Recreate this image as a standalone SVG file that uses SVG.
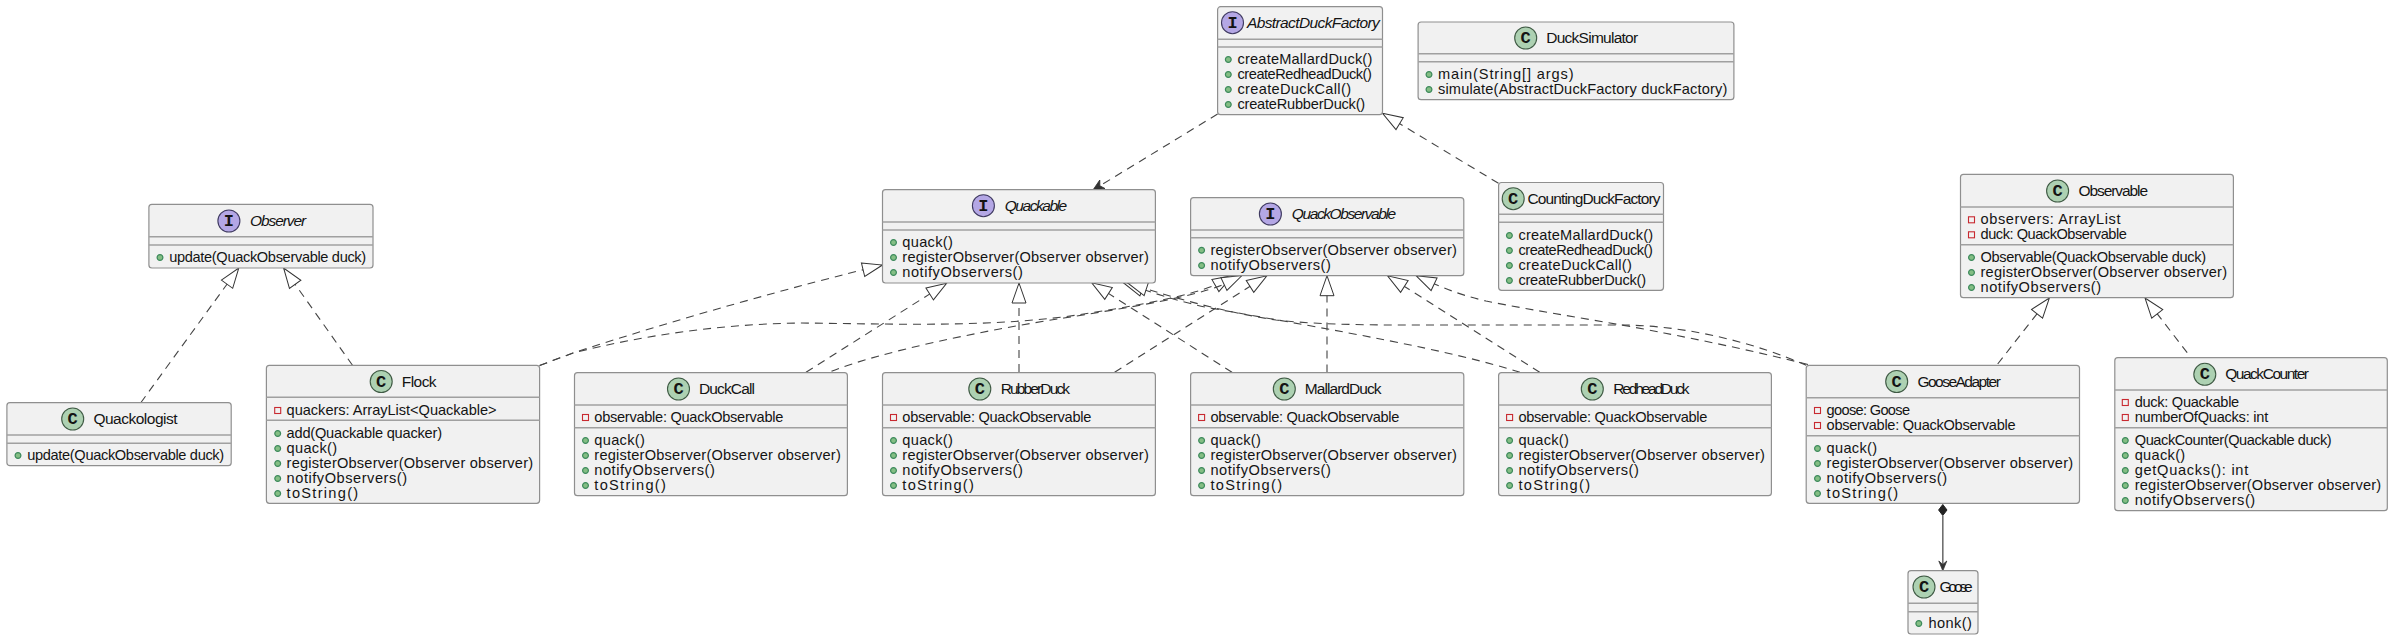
<svg xmlns="http://www.w3.org/2000/svg" width="2394" height="640" viewBox="0 0 2394 640">
<style>
text{font-family:"Liberation Sans",Arial,sans-serif;fill:#141414}
.b{fill:#f1f1f1;stroke:#8f8f8f;stroke-width:1.2}
.s{stroke:#a0a0a0;stroke-width:1.4}
.t{font-size:15.5px}
.it{font-size:15.5px;font-style:italic}
.m{font-size:14.6px}
.g{font-family:"Liberation Mono",monospace;font-size:17px;font-weight:bold;text-anchor:middle}
.cc{fill:#add1b2;stroke:#3f5a44;stroke-width:1.1}
.ci{fill:#b4a7e5;stroke:#3f3a60;stroke-width:1.1}
.pub{fill:#84be84;stroke:#3d8a5c;stroke-width:1.2}
.pri{fill:none;stroke:#c82930;stroke-width:1.1}
.d{fill:none;stroke:#444;stroke-width:1.1;stroke-dasharray:8 6}
.r{marker-end:url(#hollow)}
</style>
<defs>
<marker id="hollow" markerUnits="userSpaceOnUse" markerWidth="24" markerHeight="18" refX="21" refY="9" orient="auto">
<polygon points="1,2 21,9 1,16" fill="#fff" stroke="#333" stroke-width="1"/>
</marker>
<marker id="open" markerUnits="userSpaceOnUse" markerWidth="14" markerHeight="12" refX="12" refY="6" orient="auto">
<polygon points="1,1 12,6 1,11 4,6" fill="#333" stroke="#333" stroke-width="0.8"/>
</marker>
<circle id="p" class="pub" r="2.9"/>
<rect id="q" class="pri" x="-3" y="-3" width="6" height="6"/>
</defs>
<rect width="2394" height="640" fill="#fff"/>
<g id="connectors">
<path class="d r" d="M140.8 402.7L238.8 268"/>
<path class="d r" d="M352.5 365.3L283.6 268"/>
<path class="d" style="marker-end:url(#open)" d="M1217.6 114L1093 190"/>
<path class="d r" d="M1498.5 183.3L1382.5 113.3"/>
<path class="d r" d="M539.6 365.5L573 353C680 318 800 285 882.5 265"/>
<path class="d r" d="M539.6 365.5L573 353C640 336 720 324 800 323C900 324 1000 328 1090 313C1140 305 1190 296 1218 284L1232.7 275.5"/>
<path class="d r" d="M831.5 371.3C880 352 980 331 1064 318C1120 309 1190 298 1222 285L1242 275.5"/>
<path class="d r" d="M806 372.3L946.6 283.3"/>
<path class="d r" d="M1019 372L1019 283"/>
<path class="d r" d="M1114.6 372.3L1266.9 275.7"/>
<path class="d r" d="M1232 372.3L1091.7 282.7"/>
<path class="d r" d="M1327 372.5L1327 275.7"/>
<path class="d r" d="M1520 372.3C1450 350 1340 331 1210 308C1180 302 1150 292 1123.3 282.7"/>
<path class="d r" d="M1806.2 365.3C1760 345 1690 325 1620 325L1460 325C1400 325 1330 326 1276 320C1225 312 1180 300 1127.3 282.7"/>
<path class="d r" d="M1539.7 372.3L1387.5 275.7"/>
<path class="d r" d="M1808 364.5C1750 350 1700 340 1664 333C1610 322 1540 312 1486 301C1460 295 1440 287 1416 275.7"/>
<path class="d r" d="M1997.7 364L2049.4 298"/>
<path class="d r" d="M2187.2 352.7L2145 298"/>
<path fill="none" stroke="#707070" stroke-width="1.6" d="M1942.8 516L1942.8 566"/>
<path fill="#222" stroke="#222" d="M1942.8 504.5L1947 510L1942.8 515.5L1938.6 510Z"/>
<path fill="#333" stroke="#333" stroke-width="0.8" d="M1942.8 570.8L1938.8 561L1942.8 564.5L1946.8 561Z"/>
</g>
<g id="Observer">
<rect class="b" x="148.9" y="204.3" width="224.1" height="63.7" rx="3"/>
<line class="s" x1="148.9" x2="373" y1="236.7" y2="236.7"/><line class="s" x1="148.9" x2="373" y1="245" y2="245"/>
<circle class="ci" cx="228.9" cy="221" r="11"/><text class="g" x="228.9" y="226">I</text>
<text class="it" x="249.9" y="226" textLength="56.3">Observer</text>
<use href="#p" x="160" y="257.5"/><text class="m" x="169.2" y="262" textLength="197">update(QuackObservable duck)</text>
</g>
<g id="Quackologist">
<rect class="b" x="6.9" y="402.7" width="224.3" height="63" rx="3"/>
<line class="s" x1="6.9" x2="231.2" y1="435" y2="435"/><line class="s" x1="6.9" x2="231.2" y1="443.3" y2="443.3"/>
<circle class="cc" cx="72.7" cy="419" r="11"/><text class="g" x="72.7" y="424">C</text>
<text class="t" x="93.4" y="424" textLength="84.2">Quackologist</text>
<use href="#p" x="18" y="455.5"/><text class="m" x="27.2" y="460" textLength="197">update(QuackObservable duck)</text>
</g>
<g id="Flock">
<rect class="b" x="266.4" y="365.3" width="273.2" height="138" rx="3"/>
<line class="s" x1="266.4" x2="539.6" y1="397.3" y2="397.3"/><line class="s" x1="266.4" x2="539.6" y1="420.3" y2="420.3"/>
<circle class="cc" cx="381.2" cy="381.5" r="11"/><text class="g" x="381.2" y="386.5">C</text>
<text class="t" x="401.8" y="386.5" textLength="34.8">Flock</text>
<use href="#q" x="277.7" y="410.5"/><text class="m" x="286.6" y="415" textLength="210">quackers: ArrayList&lt;Quackable&gt;</text>
<use href="#p" x="277.7" y="433.5"/><text class="m" x="286.6" y="438" textLength="155.4">add(Quackable quacker)</text>
<use href="#p" x="277.7" y="448.5"/><text class="m" x="286.6" y="453" textLength="50.5">quack()</text>
<use href="#p" x="277.7" y="463.5"/><text class="m" x="286.6" y="468" textLength="246.5">registerObserver(Observer observer)</text>
<use href="#p" x="277.7" y="478.5"/><text class="m" x="286.6" y="483" textLength="120.5">notifyObservers()</text>
<use href="#p" x="277.7" y="493.5"/><text class="m" x="286.6" y="498" textLength="71.6">toString()</text>
</g>
<g id="DuckCall">
<rect class="b" x="574.5" y="372.7" width="272.9" height="123" rx="3"/>
<line class="s" x1="574.5" x2="847.4" y1="405" y2="405"/><line class="s" x1="574.5" x2="847.4" y1="427.7" y2="427.7"/>
<circle class="cc" cx="678.5" cy="389" r="11"/><text class="g" x="678.5" y="394">C</text>
<text class="t" x="699" y="394" textLength="56">DuckCall</text>
<use href="#q" x="585.5" y="417.5"/><text class="m" x="594.3" y="422" textLength="189">observable: QuackObservable</text>
<use href="#p" x="585.5" y="440.5"/><text class="m" x="594.3" y="445" textLength="50.5">quack()</text>
<use href="#p" x="585.5" y="455.5"/><text class="m" x="594.3" y="460" textLength="246.5">registerObserver(Observer observer)</text>
<use href="#p" x="585.5" y="470.5"/><text class="m" x="594.3" y="475" textLength="120.5">notifyObservers()</text>
<use href="#p" x="585.5" y="485.5"/><text class="m" x="594.3" y="490" textLength="71.6">toString()</text>
</g>
<g id="RubberDuck">
<rect class="b" x="882.5" y="372.7" width="272.9" height="123" rx="3"/>
<line class="s" x1="882.5" x2="1155.4" y1="405" y2="405"/><line class="s" x1="882.5" x2="1155.4" y1="427.7" y2="427.7"/>
<circle class="cc" cx="979.8" cy="389" r="11"/><text class="g" x="979.8" y="394">C</text>
<text class="t" x="1000.8" y="394" textLength="69.2">RubberDuck</text>
<use href="#q" x="893.5" y="417.5"/><text class="m" x="902.3" y="422" textLength="189">observable: QuackObservable</text>
<use href="#p" x="893.5" y="440.5"/><text class="m" x="902.3" y="445" textLength="50.5">quack()</text>
<use href="#p" x="893.5" y="455.5"/><text class="m" x="902.3" y="460" textLength="246.5">registerObserver(Observer observer)</text>
<use href="#p" x="893.5" y="470.5"/><text class="m" x="902.3" y="475" textLength="120.5">notifyObservers()</text>
<use href="#p" x="893.5" y="485.5"/><text class="m" x="902.3" y="490" textLength="71.6">toString()</text>
</g>
<g id="MallardDuck">
<rect class="b" x="1190.6" y="372.7" width="273.2" height="123" rx="3"/>
<line class="s" x1="1190.6" x2="1463.8" y1="405" y2="405"/><line class="s" x1="1190.6" x2="1463.8" y1="427.7" y2="427.7"/>
<circle class="cc" cx="1284.3" cy="389" r="11"/><text class="g" x="1284.3" y="394">C</text>
<text class="t" x="1304.8" y="394" textLength="76.7">MallardDuck</text>
<use href="#q" x="1201.6" y="417.5"/><text class="m" x="1210.4" y="422" textLength="189">observable: QuackObservable</text>
<use href="#p" x="1201.6" y="440.5"/><text class="m" x="1210.4" y="445" textLength="50.5">quack()</text>
<use href="#p" x="1201.6" y="455.5"/><text class="m" x="1210.4" y="460" textLength="246.5">registerObserver(Observer observer)</text>
<use href="#p" x="1201.6" y="470.5"/><text class="m" x="1210.4" y="475" textLength="120.5">notifyObservers()</text>
<use href="#p" x="1201.6" y="485.5"/><text class="m" x="1210.4" y="490" textLength="71.6">toString()</text>
</g>
<g id="RedheadDuck">
<rect class="b" x="1498.6" y="372.7" width="272.8" height="123" rx="3"/>
<line class="s" x1="1498.6" x2="1771.4" y1="405" y2="405"/><line class="s" x1="1498.6" x2="1771.4" y1="427.7" y2="427.7"/>
<circle class="cc" cx="1592.3" cy="389" r="11"/><text class="g" x="1592.3" y="394">C</text>
<text class="t" x="1613.3" y="394" textLength="76.3">RedheadDuck</text>
<use href="#q" x="1509.6" y="417.5"/><text class="m" x="1518.4" y="422" textLength="189">observable: QuackObservable</text>
<use href="#p" x="1509.6" y="440.5"/><text class="m" x="1518.4" y="445" textLength="50.5">quack()</text>
<use href="#p" x="1509.6" y="455.5"/><text class="m" x="1518.4" y="460" textLength="246.5">registerObserver(Observer observer)</text>
<use href="#p" x="1509.6" y="470.5"/><text class="m" x="1518.4" y="475" textLength="120.5">notifyObservers()</text>
<use href="#p" x="1509.6" y="485.5"/><text class="m" x="1518.4" y="490" textLength="71.6">toString()</text>
</g>
<g id="Quackable">
<rect class="b" x="882.5" y="189.7" width="272.9" height="93.3" rx="3"/>
<line class="s" x1="882.5" x2="1155.4" y1="222" y2="222"/><line class="s" x1="882.5" x2="1155.4" y1="230" y2="230"/>
<circle class="ci" cx="983.4" cy="205.7" r="11"/><text class="g" x="983.4" y="210.7">I</text>
<text class="it" x="1004.7" y="210.7" textLength="62.5">Quackable</text>
<use href="#p" x="893.5" y="242.5"/><text class="m" x="902.3" y="247" textLength="50.5">quack()</text>
<use href="#p" x="893.5" y="257.5"/><text class="m" x="902.3" y="262" textLength="246.5">registerObserver(Observer observer)</text>
<use href="#p" x="893.5" y="272.5"/><text class="m" x="902.3" y="277" textLength="120.5">notifyObservers()</text>
</g>
<g id="QuackObservable">
<rect class="b" x="1190.6" y="197.7" width="273.2" height="78" rx="3"/>
<line class="s" x1="1190.6" x2="1463.8" y1="230" y2="230"/><line class="s" x1="1190.6" x2="1463.8" y1="237.7" y2="237.7"/>
<circle class="ci" cx="1270.4" cy="214" r="11"/><text class="g" x="1270.4" y="219">I</text>
<text class="it" x="1291.8" y="219" textLength="104.4">QuackObservable</text>
<use href="#p" x="1201.6" y="250.3"/><text class="m" x="1210.4" y="255" textLength="246.5">registerObserver(Observer observer)</text>
<use href="#p" x="1201.6" y="265.5"/><text class="m" x="1210.4" y="270" textLength="120.5">notifyObservers()</text>
</g>
<g id="AbstractDuckFactory">
<rect class="b" x="1217.6" y="6.7" width="164.9" height="108" rx="3"/>
<line class="s" x1="1217.6" x2="1382.5" y1="39.3" y2="39.3"/><line class="s" x1="1217.6" x2="1382.5" y1="47" y2="47"/>
<circle class="ci" cx="1232.5" cy="22.7" r="11"/><text class="g" x="1232.5" y="27.7">I</text>
<text class="it" x="1247" y="27.7" textLength="132.8">AbstractDuckFactory</text>
<use href="#p" x="1228.3" y="59.5"/><text class="m" x="1237.5" y="64" textLength="134.8">createMallardDuck()</text>
<use href="#p" x="1228.3" y="74.5"/><text class="m" x="1237.5" y="79" textLength="134.4">createRedheadDuck()</text>
<use href="#p" x="1228.3" y="89.5"/><text class="m" x="1237.5" y="94" textLength="113.5">createDuckCall()</text>
<use href="#p" x="1228.3" y="104.5"/><text class="m" x="1237.5" y="109" textLength="127.7">createRubberDuck()</text>
</g>
<g id="DuckSimulator">
<rect class="b" x="1418.1" y="22" width="315.8" height="77.7" rx="3"/>
<line class="s" x1="1418.1" x2="1733.9" y1="53.7" y2="53.7"/><line class="s" x1="1418.1" x2="1733.9" y1="61.7" y2="61.7"/>
<circle class="cc" cx="1525.7" cy="38" r="11"/><text class="g" x="1525.7" y="43">C</text>
<text class="t" x="1546.3" y="43" textLength="91.8">DuckSimulator</text>
<use href="#p" x="1429" y="74.5"/><text class="m" x="1438" y="79" textLength="135.5">main(String[] args)</text>
<use href="#p" x="1429" y="89.5"/><text class="m" x="1438" y="94" textLength="289.3">simulate(AbstractDuckFactory duckFactory)</text>
</g>
<g id="CountingDuckFactory">
<rect class="b" x="1498.6" y="182.5" width="164.9" height="107.8" rx="3"/>
<line class="s" x1="1498.6" x2="1663.5" y1="214.3" y2="214.3"/><line class="s" x1="1498.6" x2="1663.5" y1="222.3" y2="222.3"/>
<circle class="cc" cx="1513.2" cy="198.7" r="11"/><text class="g" x="1513.2" y="203.7">C</text>
<text class="t" x="1527.5" y="203.7" textLength="132.9">CountingDuckFactory</text>
<use href="#p" x="1509.4" y="235.5"/><text class="m" x="1518.4" y="240" textLength="134.8">createMallardDuck()</text>
<use href="#p" x="1509.4" y="250.5"/><text class="m" x="1518.4" y="255" textLength="134.4">createRedheadDuck()</text>
<use href="#p" x="1509.4" y="265.5"/><text class="m" x="1518.4" y="270" textLength="113.5">createDuckCall()</text>
<use href="#p" x="1509.4" y="280.5"/><text class="m" x="1518.4" y="285" textLength="127.7">createRubberDuck()</text>
</g>
<g id="Observable">
<rect class="b" x="1960.5" y="174.3" width="272.9" height="123.4" rx="3"/>
<line class="s" x1="1960.5" x2="2233.4" y1="207" y2="207"/><line class="s" x1="1960.5" x2="2233.4" y1="244.7" y2="244.7"/>
<circle class="cc" cx="2057.6" cy="191" r="11"/><text class="g" x="2057.6" y="196">C</text>
<text class="t" x="2078.4" y="196" textLength="69.7">Observable</text>
<use href="#q" x="1971.5" y="219.8"/><text class="m" x="1980.5" y="224" textLength="140">observers: ArrayList</text>
<use href="#q" x="1971.5" y="234.8"/><text class="m" x="1980.5" y="239" textLength="146.4">duck: QuackObservable</text>
<use href="#p" x="1971.5" y="257.5"/><text class="m" x="1980.5" y="262" textLength="225.5">Observable(QuackObservable duck)</text>
<use href="#p" x="1971.5" y="272.5"/><text class="m" x="1980.5" y="277" textLength="246.5">registerObserver(Observer observer)</text>
<use href="#p" x="1971.5" y="287.5"/><text class="m" x="1980.5" y="292" textLength="120.5">notifyObservers()</text>
</g>
<g id="GooseAdapter">
<rect class="b" x="1806.2" y="365.3" width="273.3" height="138" rx="3"/>
<line class="s" x1="1806.2" x2="2079.5" y1="397.7" y2="397.7"/><line class="s" x1="1806.2" x2="2079.5" y1="435.7" y2="435.7"/>
<circle class="cc" cx="1896.7" cy="381.5" r="11"/><text class="g" x="1896.7" y="386.5">C</text>
<text class="t" x="1917.4" y="386.5" textLength="83.4">GooseAdapter</text>
<use href="#q" x="1817.5" y="410.5"/><text class="m" x="1826.6" y="415" textLength="83.4">goose: Goose</text>
<use href="#q" x="1817.5" y="425.5"/><text class="m" x="1826.6" y="430" textLength="189">observable: QuackObservable</text>
<use href="#p" x="1817.5" y="448.5"/><text class="m" x="1826.6" y="453" textLength="50.5">quack()</text>
<use href="#p" x="1817.5" y="463.5"/><text class="m" x="1826.6" y="468" textLength="246.5">registerObserver(Observer observer)</text>
<use href="#p" x="1817.5" y="478.5"/><text class="m" x="1826.6" y="483" textLength="120.5">notifyObservers()</text>
<use href="#p" x="1817.5" y="493.5"/><text class="m" x="1826.6" y="498" textLength="71.6">toString()</text>
</g>
<g id="QuackCounter">
<rect class="b" x="2114.8" y="357.7" width="272.5" height="153" rx="3"/>
<line class="s" x1="2114.8" x2="2387.3" y1="390" y2="390"/><line class="s" x1="2114.8" x2="2387.3" y1="427.7" y2="427.7"/>
<circle class="cc" cx="2204.8" cy="374.3" r="11"/><text class="g" x="2204.8" y="379.3">C</text>
<text class="t" x="2225.2" y="379.3" textLength="83.8">QuackCounter</text>
<use href="#q" x="2125.3" y="402.5"/><text class="m" x="2134.7" y="407" textLength="104.5">duck: Quackable</text>
<use href="#q" x="2125.3" y="417.5"/><text class="m" x="2134.7" y="422" textLength="133.5">numberOfQuacks: int</text>
<use href="#p" x="2125.3" y="440.5"/><text class="m" x="2134.7" y="445" textLength="197">QuackCounter(Quackable duck)</text>
<use href="#p" x="2125.3" y="455.5"/><text class="m" x="2134.7" y="460" textLength="50.5">quack()</text>
<use href="#p" x="2125.3" y="470.5"/><text class="m" x="2134.7" y="475" textLength="113.5">getQuacks(): int</text>
<use href="#p" x="2125.3" y="485.5"/><text class="m" x="2134.7" y="490" textLength="246.5">registerObserver(Observer observer)</text>
<use href="#p" x="2125.3" y="500.5"/><text class="m" x="2134.7" y="505" textLength="120.5">notifyObservers()</text>
</g>
<g id="Goose">
<rect class="b" x="1908" y="570.7" width="70" height="63.3" rx="3"/>
<line class="s" x1="1908" x2="1978" y1="603.3" y2="603.3"/><line class="s" x1="1908" x2="1978" y1="611.7" y2="611.7"/>
<circle class="cc" cx="1924" cy="587" r="11"/><text class="g" x="1924" y="592">C</text>
<text class="t" x="1939.4" y="592" textLength="33.3">Goose</text>
<use href="#p" x="1918.8" y="623.5"/><text class="m" x="1928.4" y="628" textLength="43.5">honk()</text>
</g>
</svg>
